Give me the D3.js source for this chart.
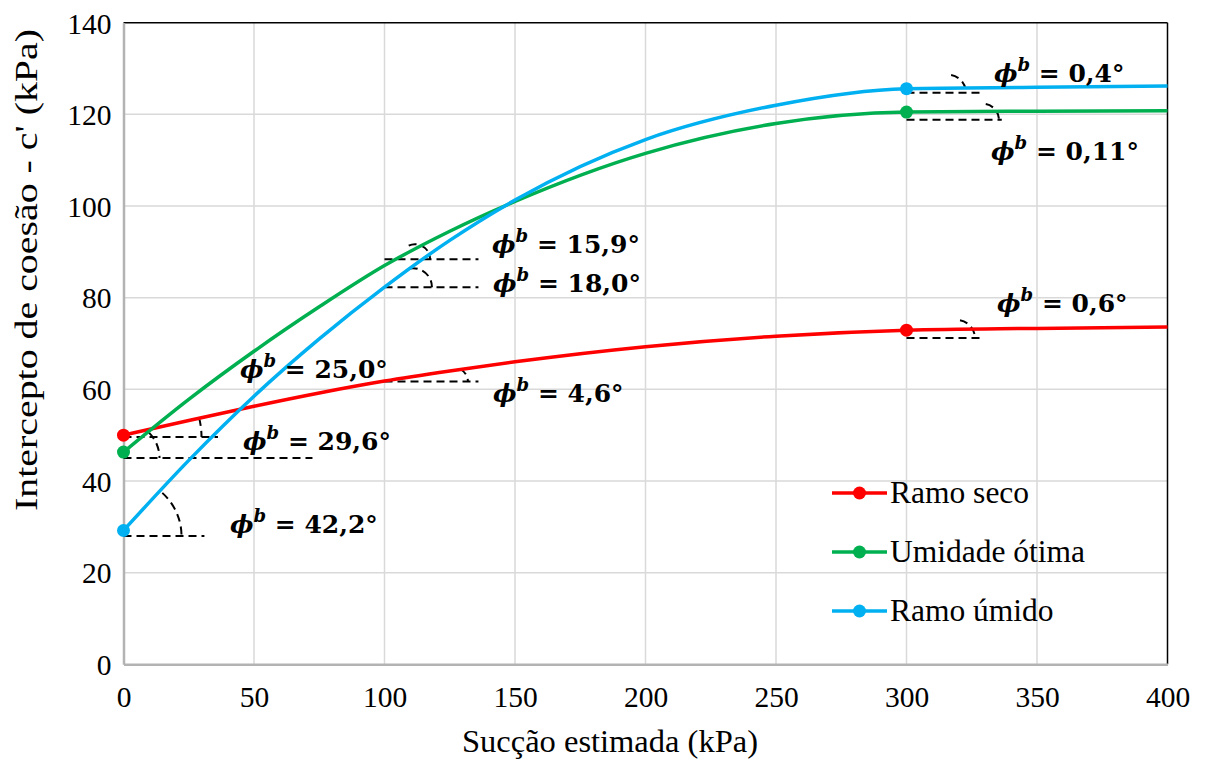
<!DOCTYPE html>
<html>
<head>
<meta charset="utf-8">
<script src="https://cdn.jsdelivr.net/npm/d3@7"></script>
<style>
  html, body { margin: 0; padding: 0; background: #fff; }
  svg { display: block; }
  .serif { font-family: "Liberation Serif", "Times New Roman", Times, "DejaVu Serif", serif; }
</style>
</head>
<body>
<svg id="chart" width="1206" height="760"></svg>
<script>
// ---------------- DATA ----------------
const suction = [0, 25, 50, 75, 100, 125, 150, 200, 250, 300, 350, 400];
const ramoSeco = [50, 53.2, 56.3, 59.2, 61.8, 64.0, 66.0, 69.3, 71.6, 72.9, 73.3, 73.6];
const umidadeOtima = [46.3, 57.8, 68.3, 78.0, 87.0, 94.5, 101.0, 111.5, 118.0, 120.5, 120.7, 120.8];
const ramoUmido = [29.2, 44.5, 58.5, 71.0, 82.3, 92.5, 101.3, 114.5, 122.0, 125.6, 125.9, 126.2];
const markerSuction = [0, 300];

const seriesNames = ["Ramo seco", "Umidade ótima", "Ramo úmido"];
const xTicks = [0, 50, 100, 150, 200, 250, 300, 350, 400];
const yTicks = [0, 20, 40, 60, 80, 100, 120, 140];
const xTitle = "Sucção estimada (kPa)";
const yTitle = "Intercepto de coesão - c' (kPa)";

// tangent-angle annotations (data coordinates)
const phiValues = ["42,2°", "29,6°", "25,0°", "4,6°", "15,9°", "18,0°", "0,6°", "0,4°", "0,11°"];
const phiLabelX = [40.8, 45.8, 44.6, 141.6, 141.2, 141.6, 334.7, 333.5, 332.4];
const phiLabelY = [28.65, 46.75, 62.5, 57.2, 89.7, 81.2, 76.9, 127.1, 110.0];

const guideY = [28.0, 45.0, 49.6, 88.4, 82.3, 61.7, 124.7, 118.8, 71.2];
const guideX0 = [0, 0, 0, 100, 100, 100, 300, 300, 300];
const guideX1 = [31, 72.4, 36.2, 136, 136, 136, 328, 336.5, 329];
const arcCenterX = [0, 0, 0, 111.7, 110.9, 126.6, 315.9, 329.3, 319.3];
const arcStartDeg = [48, 45, 14, 115, 100, 65, 80, 80, 80];

// ---------------- LAYOUT ----------------
const colors = ["#ff0000", "#00b050", "#00b0f0"];
const arcRadius = [58, 36, 78, 15, 19, 14, 18, 16, 18];

const svg = d3.select("#chart");
const x = d3.scaleLinear().domain([0, 400]).range([123.5, 1167.5]);
const y = d3.scaleLinear().domain([0, 140]).range([664.3, 22.7]);

svg.append("rect").attr("width", 1206).attr("height", 760).attr("fill", "#fff");

// gridlines
const grid = svg.append("g");
grid.selectAll("line.v").data(xTicks.slice(1, -1)).join("line")
  .attr("x1", d => x(d)).attr("x2", d => x(d))
  .attr("y1", y(0)).attr("y2", y(140))
  .attr("stroke", "#d9d9d9").attr("stroke-width", 1.5);
grid.selectAll("line.h").data(yTicks.slice(1, -1)).join("line")
  .attr("x1", x(0)).attr("x2", x(400))
  .attr("y1", d => y(d)).attr("y2", d => y(d))
  .attr("stroke", "#d9d9d9").attr("stroke-width", 1.5);

// frame: top & right black, left & bottom gray
svg.append("line").attr("x1", x(0)).attr("x2", x(400)).attr("y1", y(140)).attr("y2", y(140))
  .attr("stroke", "#000").attr("stroke-width", 1.5);
svg.append("line").attr("x1", x(400)).attr("x2", x(400)).attr("y1", y(140)).attr("y2", y(0))
  .attr("stroke", "#000").attr("stroke-width", 1.5);

// axes via d3
const xAxis = svg.append("g").attr("transform", `translate(0,${y(0)})`)
  .call(d3.axisBottom(x).tickValues(xTicks).tickSize(0).tickPadding(22).tickFormat(d3.format("d")));
const yAxis = svg.append("g").attr("transform", `translate(${x(0)},0)`)
  .call(d3.axisLeft(y).tickValues(yTicks).tickSize(0).tickPadding(12).tickFormat(d3.format("d")));
[xAxis, yAxis].forEach(g => {
  g.attr("font-family", null).attr("font-size", null);
  g.select(".domain").attr("stroke", "#b3b3b3").attr("stroke-width", 2.5);
  g.selectAll("text").attr("class", "serif").style("font-size", "29.5px").attr("fill", "#000");
});
xAxis.selectAll("text").attr("dy", "0.71em");
yAxis.selectAll("text").attr("dy", "0.35em");

// axis titles
svg.append("text").attr("class", "serif").attr("x", 610).attr("y", 752)
  .attr("text-anchor", "middle").style("font-size", "32.5px")
  .text(xTitle);
svg.append("text").attr("class", "serif").attr("transform", `translate(37,270) rotate(-90)`)
  .attr("text-anchor", "middle").style("font-size", "31px")
  .attr("textLength", 482).attr("lengthAdjust", "spacingAndGlyphs")
  .text(yTitle);

// annotations: dashed guides and arcs
const ann = svg.append("g").attr("fill", "none").attr("stroke", "#000")
  .attr("stroke-width", 2).attr("stroke-dasharray", "8,5");
ann.selectAll("line").data(guideY).join("line")
  .attr("x1", (d, i) => x(guideX0[i])).attr("x2", (d, i) => x(guideX1[i]))
  .attr("y1", d => y(d)).attr("y2", d => y(d));
ann.selectAll("path").data(guideY).join("path")
  .attr("d", (d, i) => {
    const cx = x(arcCenterX[i]), cy = y(d), r = arcRadius[i];
    const a = -arcStartDeg[i] * Math.PI / 180;
    const p = d3.path();
    p.moveTo(cx + r * Math.cos(a), cy + r * Math.sin(a));
    p.arc(cx, cy, r, a, 0, false);
    return p.toString();
  });

// series lines
const allSeries = [ramoSeco, umidadeOtima, ramoUmido];
const line = d3.line().x((d, i) => x(suction[i])).y(d => y(d)).curve(d3.curveMonotoneX);
allSeries.forEach((vals, k) => {
  svg.append("path").datum(vals).attr("d", line)
    .attr("fill", "none").attr("stroke", colors[k]).attr("stroke-width", 3.5);
});
// markers
allSeries.forEach((vals, k) => {
  svg.selectAll(null).data(markerSuction).join("circle")
    .attr("cx", d => x(d)).attr("cy", d => y(vals[suction.indexOf(d)]))
    .attr("r", 6.5).attr("fill", colors[k]);
});

// phi labels
const labels = svg.append("g").style("font-family", "'DejaVu Serif', serif")
  .attr("font-weight", "bold").style("font-size", "25px").attr("fill", "#000");
phiValues.forEach((v, i) => {
  const t = labels.append("text").attr("x", x(phiLabelX[i])).attr("y", y(phiLabelY[i]));
  t.append("tspan").attr("font-style", "italic").text("ϕ");
  t.append("tspan").attr("font-style", "italic").style("font-size", "18px").attr("dy", -11).text("b");
  t.append("tspan").attr("dy", 11).text(" = " + v);
});

// legend
const legend = svg.append("g");
seriesNames.forEach((name, k) => {
  const ly = 493 + k * 59;
  legend.append("line").attr("x1", 832).attr("x2", 887).attr("y1", ly).attr("y2", ly)
    .attr("stroke", colors[k]).attr("stroke-width", 3.5);
  legend.append("circle").attr("cx", 859.5).attr("cy", ly).attr("r", 6.5).attr("fill", colors[k]);
  legend.append("text").attr("class", "serif").attr("x", 890).attr("y", ly + 10)
    .style("font-size", "31.5px")
    .text(name);
});
</script>
</body>
</html>
